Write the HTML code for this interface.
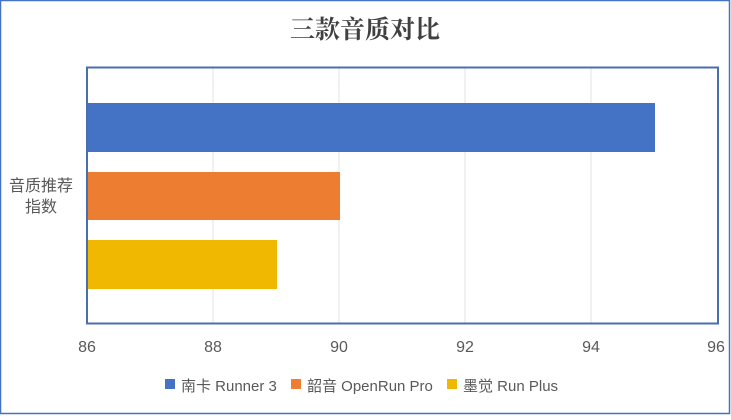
<!DOCTYPE html>
<html><head><meta charset="utf-8"><style>
body{margin:0;background:#fff;}
svg text{font-family:"Liberation Sans","Noto Sans CJK SC",sans-serif;fill:#595959;}
</style></head><body>
<svg width="731" height="415" xmlns="http://www.w3.org/2000/svg">
<rect x="0.5" y="0.5" width="729" height="413" fill="#fff" stroke="#4472c4" stroke-width="1.5"/>
<text x="365" y="38" text-anchor="middle" font-size="25" font-weight="bold" style="fill:#404040;font-family:'Noto Serif CJK SC',serif">三款音质对比</text>
<g stroke="#e3e3e3" stroke-width="1">
<line x1="213" y1="68" x2="213" y2="323"/><line x1="339" y1="68" x2="339" y2="323"/>
<line x1="465" y1="68" x2="465" y2="323"/><line x1="591" y1="68" x2="591" y2="323"/>
</g>
<rect x="87" y="103" width="568" height="49" fill="#4472c4"/>
<rect x="87" y="172" width="253" height="48" fill="#ed7d31"/>
<rect x="87" y="240" width="190" height="49" fill="#f0b800"/>
<rect x="87" y="67.5" width="631" height="256" fill="none" stroke="#4a6fae" stroke-width="2"/>
<g font-size="16" text-anchor="middle">
<text x="87" y="352">86</text><text x="213" y="352">88</text><text x="339" y="352">90</text>
<text x="465" y="352">92</text><text x="591" y="352">94</text><text x="716" y="352">96</text>
</g>
<text x="41" y="191" font-size="16" text-anchor="middle">音质推荐</text>
<text x="41" y="212" font-size="16" text-anchor="middle">指数</text>
<g font-size="15">
<rect x="165" y="379" width="10" height="10" fill="#4472c4"/><text x="181" y="391">南卡 Runner 3</text>
<rect x="291" y="379" width="10" height="10" fill="#ed7d31"/><text x="307" y="391">韶音 OpenRun Pro</text>
<rect x="447" y="379" width="10" height="10" fill="#f0b800"/><text x="463" y="391">墨觉 Run Plus</text>
</g>
</svg>
</body></html>
